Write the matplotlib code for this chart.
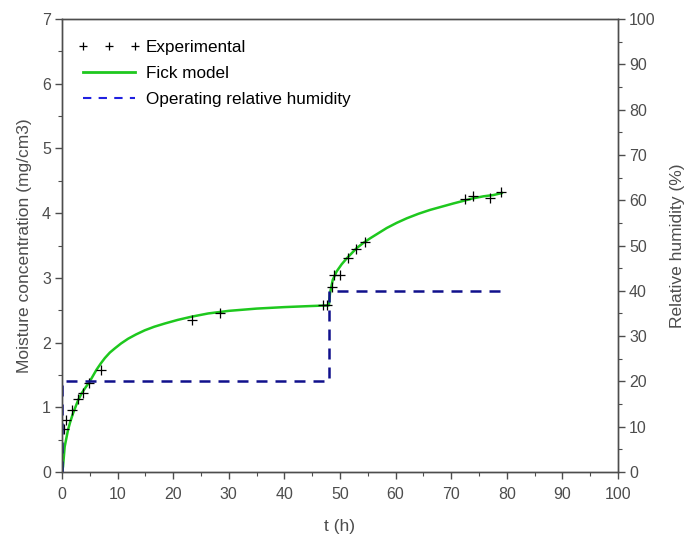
import matplotlib
matplotlib.use("Agg")
import matplotlib.pyplot as plt
from matplotlib.lines import Line2D
from matplotlib.ticker import MultipleLocator

plt.rcParams['font.family'] = ['Liberation Sans', 'DejaVu Sans']

# Experimental moisture uptake
t_exp = [0.36, 0.8, 1.85, 2.85, 3.8, 4.85, 7.0, 23.3, 28.4, 47.0, 47.7,
         48.5, 48.9, 50.0, 51.4, 52.9, 54.45, 72.5, 73.9, 77.0, 78.9]
c_exp = [0.66, 0.80, 0.96, 1.13, 1.22, 1.38, 1.57, 2.35, 2.46, 2.58, 2.58,
         2.86, 3.04, 3.05, 3.30, 3.44, 3.55, 4.22, 4.26, 4.23, 4.32]

# Fick model curve
t_fick = [0.0, 0.18, 0.48, 1.08, 1.5, 2.0, 2.9, 3.5, 4.1, 5.0, 5.6, 6.2, 7.0,
          7.7, 8.6, 9.5, 10.6, 11.9, 13.3, 14.9, 16.6, 18.5, 20.8, 23.3,
          26.3, 30.0, 35.0, 40.0, 44.0, 48.0,
          48.2, 48.7, 49.4, 50.3, 51.2, 52.1, 53.0, 54.2, 55.4, 56.9, 58.4,
          60.2, 62.0, 64.1, 66.2, 68.3, 70.4, 72.2, 74.0, 75.8, 77.6, 79.1]
c_fick = [0.0, 0.08, 0.39, 0.65, 0.78, 0.91, 1.11, 1.21, 1.29, 1.40, 1.49,
          1.58, 1.68, 1.76, 1.845, 1.91, 1.985, 2.06, 2.125, 2.19, 2.245, 2.295,
          2.35, 2.40, 2.45, 2.49, 2.525, 2.548, 2.562, 2.575,
          2.76, 2.97, 3.10, 3.21, 3.30, 3.38, 3.46, 3.54, 3.61, 3.69, 3.77,
          3.85, 3.92, 3.99, 4.05, 4.10, 4.15, 4.19, 4.23, 4.26, 4.28, 4.31]

# Operating relative humidity steps
t_rh = [0, 0, 48, 48, 79]
rh = [0, 20, 20, 40, 40]

grey = '#4d4d4d'
green = '#1ec81e'
navy = '#10108c'

fig = plt.figure(figsize=(6.84, 5.38), dpi=100)
ax = fig.add_axes([62 / 684, 1 - 472 / 538, (618 - 62) / 684, (472 - 19) / 538])
ax2 = ax.twinx()

ax.plot(t_fick, c_fick, color=green, lw=1.8, zorder=2)
ax.plot(t_exp, c_exp, ls='none', marker='+', color='black', ms=7, mew=0.9, zorder=3)
ax2.plot(t_rh, rh, color=navy, lw=1.8, dashes=(4.4, 3.2), zorder=2)

ax.set_xlim(0, 100)
ax.set_ylim(0, 7)
ax2.set_ylim(0, 100)

ax.xaxis.set_major_locator(MultipleLocator(10))
ax.xaxis.set_minor_locator(MultipleLocator(5))
ax.yaxis.set_major_locator(MultipleLocator(1))
ax.yaxis.set_minor_locator(MultipleLocator(0.5))
ax2.yaxis.set_major_locator(MultipleLocator(10))
ax2.yaxis.set_minor_locator(MultipleLocator(5))

for a in (ax, ax2):
    for side, sp in a.spines.items():
        sp.set_color(grey)
        sp.set_linewidth(1.0)
    a.tick_params(which='major', direction='out', length=5, width=1,
                  color=grey, labelcolor=grey, labelsize=11.5, pad=3)
    a.tick_params(which='minor', direction='out', length=3, width=0.8,
                  color=grey)
ax.tick_params(axis='x', which='both', top=False)
ax.tick_params(axis='x', pad=6)

ax.set_xlabel('t (h)', color=grey, fontsize=12.5, labelpad=12)
ax.set_ylabel('Moisture concentration (mg/cm3)', color=grey, fontsize=12.5, labelpad=7)
ax2.set_ylabel('Relative humidity (%)', color=grey, fontsize=12.5, labelpad=10)

handles = [
    Line2D([], [], ls='none', marker='+', color='black', ms=6, mew=0.9),
    Line2D([], [], color=green, lw=2.0),
    Line2D([], [], color='#2020e0', lw=1.5, dashes=(4, 3.5)),
]
labels = ['Experimental', 'Fick model', 'Operating relative humidity']
leg = ax2.legend(handles, labels, loc='upper left', bbox_to_anchor=(-0.009, 1.0),
                 frameon=False, numpoints=3, handlelength=3.6, handletextpad=0.35,
                 labelspacing=0.64, fontsize=12.3, borderaxespad=0.5,
                 borderpad=0.75)
for txt in leg.get_texts():
    txt.set_color('black')

fig.savefig('out.png', dpi=100)
